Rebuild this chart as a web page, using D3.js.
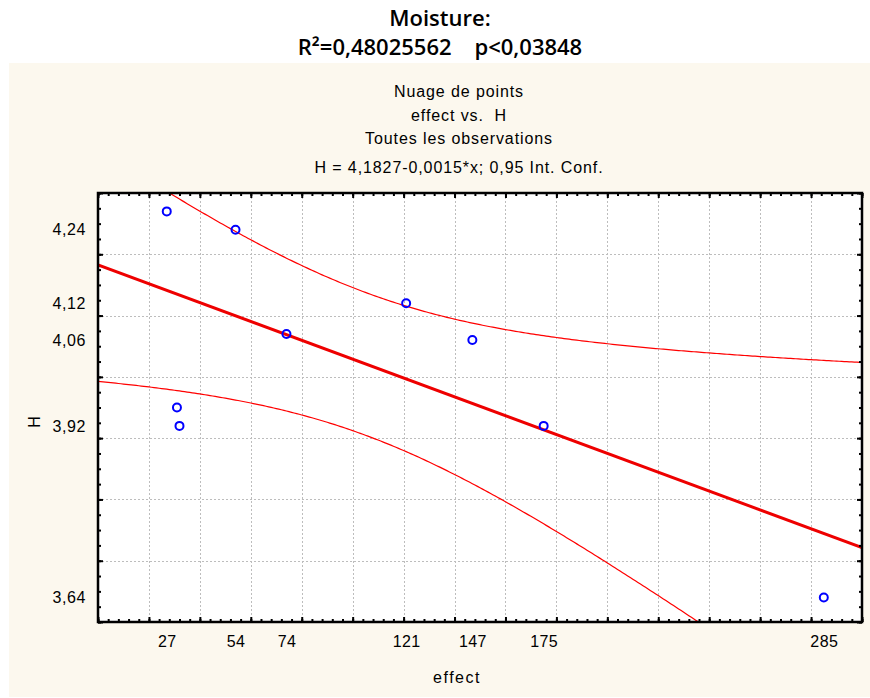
<!DOCTYPE html>
<html>
<head>
<meta charset="utf-8">
<script src="https://cdn.jsdelivr.net/npm/d3@7"></script>
<style>
  body { margin: 0; background: #fff; }
  svg text { font-family: "Liberation Sans", Arial, sans-serif; fill: #000; white-space: pre; }
  .big { font-family: "Open Sans", sans-serif; font-weight: 600; }
</style>
</head>
<body>
<div id="chart"></div>
<script>
// ===== data =====
const effect = [27, 54, 74, 31, 32, 121, 147, 175, 285];
const H      = [4.27, 4.24, 4.07, 3.95, 3.92, 4.12, 4.06, 3.92, 3.64];
const xTickLabels = [27, 54, 74, 121, 147, 175, 285];
const yTickLabels = [4.24, 4.12, 4.06, 3.92, 3.64];
const titleLines = ['Moisture:', 'R\u00B2=0,48025562    p<0,03848'];
const subLines = ['Nuage de points', 'effect vs.  H', 'Toutes les observations',
                  'H = 4,1827-0,0015*x; 0,95 Int. Conf.'];

const width = 870, height = 698;
const plot = { left: 98, right: 862, top: 193, bottom: 622 };

const svg = d3.select('#chart').append('svg')
  .attr('width', width)
  .attr('height', height);

// ===== background panel =====
svg.append('rect')
  .attr('x', 9).attr('y', 63)
  .attr('width', width - 9).attr('height', 634)
  .attr('fill', '#fcf8ee');

// ===== titles =====
svg.selectAll('.big').data(titleLines).join('text')
  .attr('class', 'big')
  .attr('x', 440)
  .attr('y', (d, i) => 26 + i * 29)
  .attr('text-anchor', 'middle')
  .attr('font-size', 22)
  .text(d => d);

const subY = [97, 121, 144, 173];
svg.selectAll('.sub').data(subLines).join('text')
  .attr('class', 'sub')
  .attr('x', 459)
  .attr('y', (d, i) => subY[i])
  .attr('text-anchor', 'middle')
  .attr('font-size', 16)
  .style('letter-spacing', '0.9px')
  .text(d => d);

// ===== scales =====
const x = d3.scaleLinear().domain([0, 300]).range([plot.left, plot.right]);
const y = d3.scaleLinear().domain([3.6, 4.3]).range([plot.bottom, plot.top]);
const comma = d => d3.format('.2f')(d).replace('.', ',');

svg.append('rect')
  .attr('x', plot.left).attr('y', plot.top)
  .attr('width', plot.right - plot.left).attr('height', plot.bottom - plot.top)
  .attr('fill', '#fff');

// ===== grid =====
const xGrid = d3.range(20, 300, 20);
const yGrid = d3.range(3.7, 4.25, 0.1);
const grid = svg.append('g')
  .attr('stroke', '#bdbdbd')
  .attr('stroke-width', 1)
  .attr('stroke-dasharray', '2,2');
grid.selectAll('.gx').data(xGrid).join('line')
  .attr('x1', d => Math.round(x(d)) + 0.5).attr('x2', d => Math.round(x(d)) + 0.5)
  .attr('y1', plot.top).attr('y2', plot.bottom);
grid.selectAll('.gy').data(yGrid).join('line')
  .attr('y1', d => Math.round(y(d)) + 0.5).attr('y2', d => Math.round(y(d)) + 0.5)
  .attr('x1', plot.left).attr('x2', plot.right);

// ===== regression + 95% confidence band =====
const n = effect.length;
const mx = d3.mean(effect), my = d3.mean(H);
const sxx = d3.sum(effect, v => (v - mx) ** 2);
const sxy = d3.sum(effect, (v, i) => (v - mx) * (H[i] - my));
const slope = sxy / sxx, icpt = my - slope * mx;
const sse = d3.sum(effect, (v, i) => (H[i] - (icpt + slope * v)) ** 2);
const s = Math.sqrt(sse / (n - 2));
const t975 = 2.364624; // df = 7
const band = v => t975 * s * Math.sqrt(1 / n + (v - mx) ** 2 / sxx);

const xs = d3.range(0, 300.5, 1);
svg.append('clipPath').attr('id', 'clip')
  .append('rect')
  .attr('x', plot.left).attr('y', plot.top)
  .attr('width', plot.right - plot.left).attr('height', plot.bottom - plot.top);

const lines = svg.append('g').attr('clip-path', 'url(#clip)');
const line = d3.line().x(d => x(d[0])).y(d => y(d[1]));
lines.append('path')
  .attr('d', line(xs.map(v => [v, icpt + slope * v + band(v)])))
  .attr('fill', 'none').attr('stroke', '#ff0000').attr('stroke-width', 1.2);
lines.append('path')
  .attr('d', line(xs.map(v => [v, icpt + slope * v - band(v)])))
  .attr('fill', 'none').attr('stroke', '#ff0000').attr('stroke-width', 1.2);
lines.append('path')
  .attr('d', line([[0, icpt], [300, icpt + slope * 300]]))
  .attr('fill', 'none').attr('stroke', '#ee0000').attr('stroke-width', 3);

// ===== points =====
svg.append('g').selectAll('circle').data(effect).join('circle')
  .attr('cx', d => x(d))
  .attr('cy', (d, i) => y(H[i]))
  .attr('r', 4)
  .attr('fill', 'none')
  .attr('stroke', '#0000ff')
  .attr('stroke-width', 2);

// ===== frame ticks (inward) =====
function ticks(axis, g) {
  g.call(axis).call(a => a.select('.domain').remove()).selectAll('text').remove();
}
const xMinor = d3.range(0, 300.1, 4), yMinor = d3.range(3.6, 4.301, 0.025);
const xMajor = d3.range(0, 300.1, 20), yMajor = d3.range(3.6, 4.301, 0.1);
[[d3.axisBottom, plot.top], [d3.axisTop, plot.bottom]].forEach(([ax, ty]) => {
  ticks(ax(x).tickValues(xMinor).tickSize(3), svg.append('g').attr('transform', `translate(0,${ty})`));
  ticks(ax(x).tickValues(xMajor).tickSize(5), svg.append('g').attr('transform', `translate(0,${ty})`));
});
[[d3.axisRight, plot.left], [d3.axisLeft, plot.right]].forEach(([ax, tx]) => {
  ticks(ax(y).tickValues(yMinor).tickSize(3), svg.append('g').attr('transform', `translate(${tx},0)`));
  ticks(ax(y).tickValues(yMajor).tickSize(5), svg.append('g').attr('transform', `translate(${tx},0)`));
});
svg.selectAll('.tick line').attr('stroke', '#000').attr('stroke-width', 2);

svg.append('rect')
  .attr('x', plot.left).attr('y', plot.top)
  .attr('width', plot.right - plot.left).attr('height', plot.bottom - plot.top)
  .attr('fill', 'none').attr('stroke', '#000').attr('stroke-width', 2.5);

// ===== tick labels =====
const labelFont = '"Liberation Sans", Arial, sans-serif';
const xAxis = svg.append('g')
  .attr('transform', `translate(0,${plot.bottom + 11})`)
  .call(d3.axisBottom(x).tickValues(xTickLabels).tickSize(0).tickFormat(d3.format('d')));
xAxis.select('.domain').remove();
xAxis.selectAll('text').attr('font-size', 16).attr('font-family', labelFont)
  .style('letter-spacing', '0.4px');

const yAxis = svg.append('g')
  .attr('transform', `translate(${plot.left - 9},0)`)
  .call(d3.axisLeft(y).tickValues(yTickLabels).tickSize(0).tickFormat(comma));
yAxis.select('.domain').remove();
yAxis.selectAll('text').attr('font-size', 16).attr('font-family', labelFont)
  .style('letter-spacing', '0.6px');

// ===== axis titles =====
svg.append('text')
  .attr('x', 457).attr('y', 683)
  .attr('text-anchor', 'middle')
  .attr('font-size', 16)
  .style('letter-spacing', '1.5px')
  .text('effect');

svg.append('text')
  .attr('transform', 'translate(40,422) rotate(-90)')
  .attr('text-anchor', 'middle')
  .attr('font-size', 16)
  .text('H');
</script>
</body>
</html>
